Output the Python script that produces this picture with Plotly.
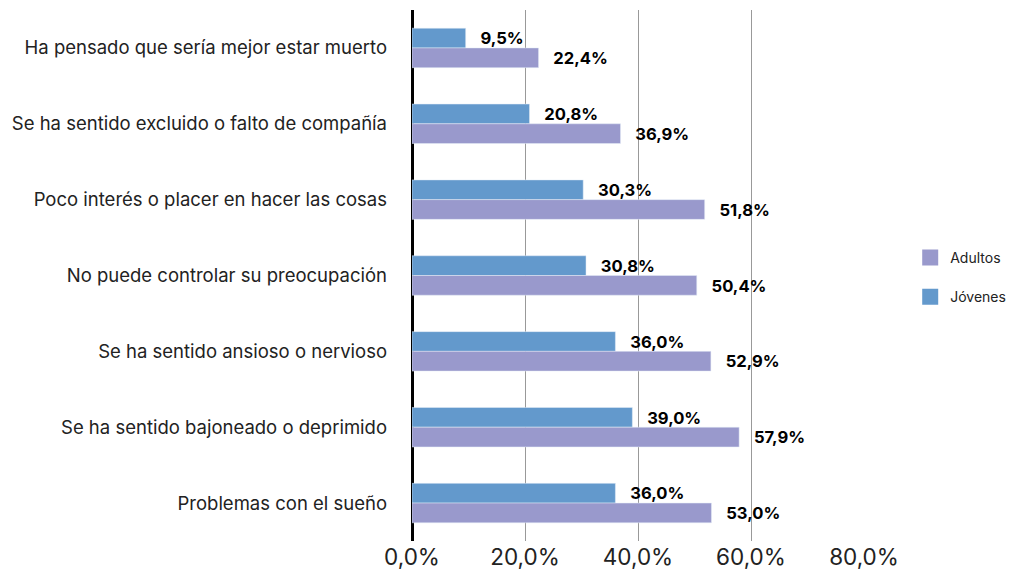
import plotly.graph_objects as go

# categories top to bottom
categorias = [
    "Ha pensado que sería mejor estar muerto",
    "Se ha sentido excluido o falto de compañía",
    "Poco interés o placer en hacer las cosas",
    "No puede controlar su preocupación",
    "Se ha sentido ansioso o nervioso",
    "Se ha sentido bajoneado o deprimido",
    "Problemas con el sueño",
]
jovenes = [9.5, 20.8, 30.3, 30.8, 36.0, 39.0, 36.0]
adultos = [22.4, 36.9, 51.8, 50.4, 52.9, 57.9, 53.0]
x_ticks = [0, 20, 40, 60, 80]

AZUL = "#6399CC"
LILA = "#9999CC"


def etiqueta(v):
    return f"{v:.1f}%".replace(".", ",")


# bar labels sit a bit away from the bar end, like the original
PAD = "\u00a0\u00a0\u00a0"
label_font = dict(size=18.5, color="black", family="Inter", weight="bold")

fig = go.Figure()
fig.add_trace(go.Bar(
    y=categorias, x=jovenes, name="Jóvenes", orientation="h",
    marker_color=AZUL, showlegend=False,
    text=[PAD + etiqueta(v) for v in jovenes], textposition="outside",
    textfont=label_font, cliponaxis=False,
))
fig.add_trace(go.Bar(
    y=categorias, x=adultos, name="Adultos", orientation="h",
    marker_color=LILA, showlegend=False,
    text=[PAD + etiqueta(v) for v in adultos], textposition="outside",
    textfont=label_font, cliponaxis=False,
))

# legend entries with big square swatches (Adultos first)
for nombre, color in [("Adultos", LILA), ("Jóvenes", AZUL)]:
    fig.add_trace(go.Scatter(
        x=[None], y=[None], mode="markers", name=nombre, legendgroup=nombre,
        marker=dict(symbol="square", size=18, color=color),
    ))

# note: the page body adds an 8px margin, so margins are shifted by 8
fig.update_layout(
    width=1016, height=571,
    margin=dict(l=404, r=160, t=2, b=38),
    plot_bgcolor="white", paper_bgcolor="white",
    font=dict(family="Inter", color="#222"),
    barmode="group", bargap=0.48, bargroupgap=0,
    showlegend=True,
    legend=dict(
        xref="container", yref="container",
        x=0.888, y=0.528, xanchor="left", yanchor="middle",
        traceorder="grouped", font=dict(size=14),
        tracegroupgap=18, itemsizing="trace", itemwidth=30,
    ),
    xaxis=dict(
        range=[0, 80], tickmode="array", tickvals=x_ticks,
        ticktext=[etiqueta(v) for v in x_ticks],
        showgrid=True, gridcolor="#999", gridwidth=1,
        zeroline=True, zerolinecolor="black", zerolinewidth=3,
        tickfont=dict(size=22.5, color="#222"), ticks="", automargin=False,
        ticklabelstandoff=0,
    ),
    yaxis=dict(
        autorange="reversed", showgrid=False, ticks="",
        tickfont=dict(size=18.5, color="#222"), ticklabelstandoff=24,
        automargin=False,
    ),
)

fig.write_html("out.html")
